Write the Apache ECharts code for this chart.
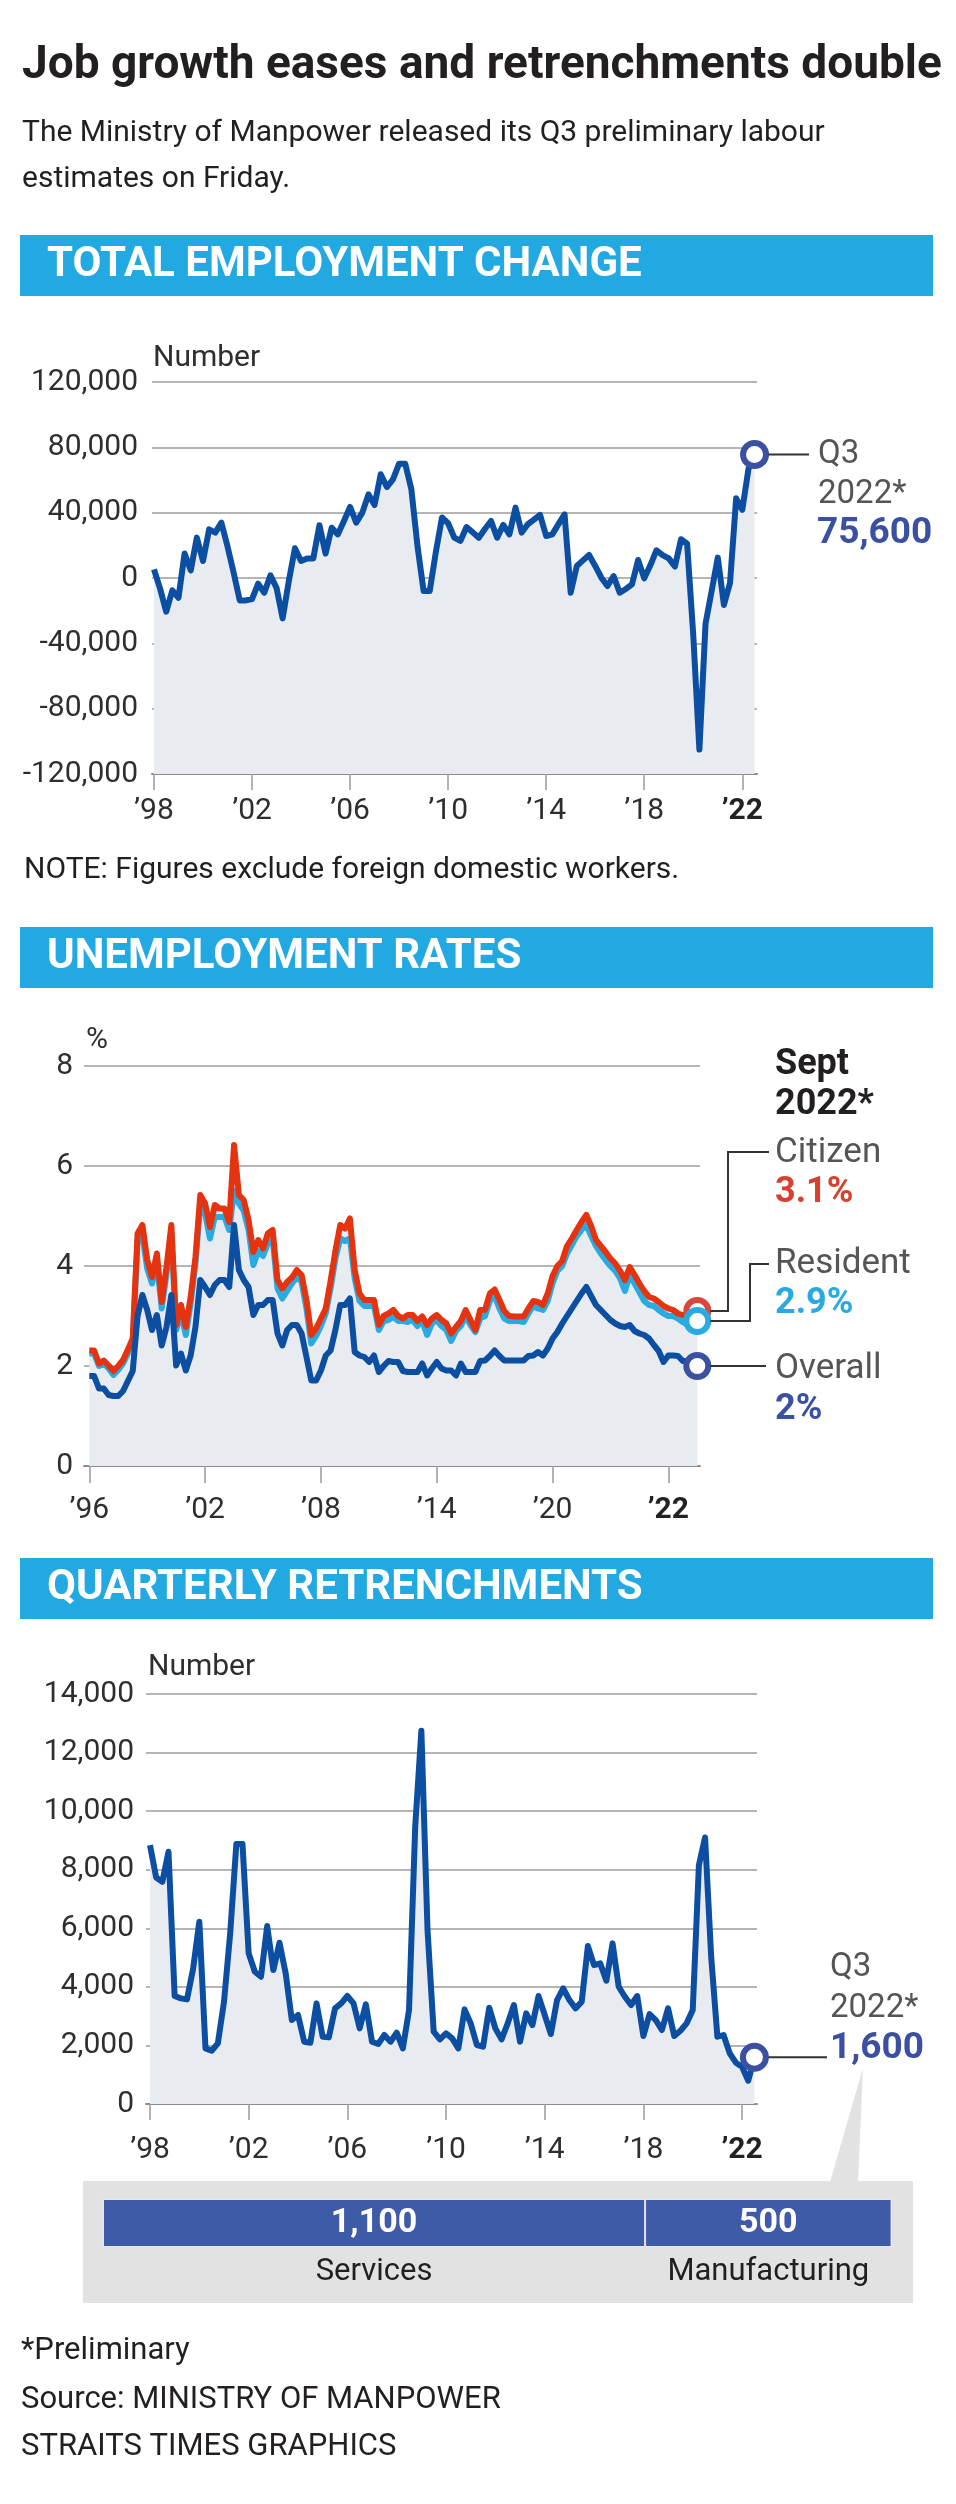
<!DOCTYPE html>
<html><head><meta charset="utf-8">
<script src="https://cdn.jsdelivr.net/npm/echarts@6/dist/echarts.min.js"></script>
<style>html,body{margin:0;padding:0;background:#fff}#c{width:956px;height:2504px}</style>
</head><body><div id="c"></div>
<script>
// ================= DATA =================
// Total employment change, quarterly, Q1 1998 .. Q3 2022
const empStartYear = 1998;
const employmentChange = [5300, -6500, -20600, -7600, -12100, 15000, 4700, 24700, 10400, 29800,
  27800, 33900, 19400, 3300, -13700, -13700, -12900, -3500, -9000, 1600,
  -6000, -24700, -2000, 18200, 10400, 12000, 12000, 32300, 14900, 30800,
  26700, 34900, 43500, 33900, 40000, 51200, 44700, 63500, 55700, 60400,
  70000, 70000, 54300, 19600, -8000, -8000, 16000, 37000, 33500, 24700,
  22700, 31200, 28000, 24700, 30000, 34900, 24700, 32500, 26700, 43100,
  27800, 32900, 35700, 38600, 25700, 26700, 33000, 39000, -9000, 7400,
  10800, 14100, 7400, 200, -4900, 1200, -9000, -6700, -3900, 11000,
  -200, 7800, 17000, 14000, 12000, 7000, 23700, 21000, -35000, -105000,
  -28000, -8000, 12500, -16500, -3000, 48800, 41700, 66600, 75600];

// Quarterly retrenchments, Q1 1998 .. Q3 2022
const retrenchments = [8840, 7736, 7588, 8612, 3686, 3606, 3572, 4630, 6223, 1900,
  1820, 2070, 3493, 5825, 8874, 8874, 5142, 4517, 4346, 6075,
  4574, 5507, 4460, 2867, 3038, 2128, 2093, 3436, 2298, 2275,
  3265, 3436, 3686, 3436, 2583, 3402, 2128, 2048, 2355, 2128,
  2435, 1900, 3208, 9465, 12742, 5939, 2469, 2207, 2412, 2241,
  1900, 3231, 2753, 2014, 1957, 3288, 2583, 2207, 2753, 3379,
  2128, 3095, 2696, 3686, 3038, 2389, 3550, 3948, 3550, 3265,
  3493, 5393, 4744, 4801, 4209, 5484, 4005, 3663, 3379, 3686,
  2321, 3072, 2867, 2526, 3265, 2321, 2503, 2753, 3208, 8157,
  9102, 5000, 2298, 2355, 1729, 1411, 1274, 796, 1600];

// Unemployment rates (%): quarterly Q1 1996 .. Q1 2020, then monthly Apr 2020 .. Sep 2022
const unempCitizen = [2.31, 2.31, 2.05, 2.11, 2.01, 1.9, 2.0, 2.12, 2.33, 2.55,
  4.65, 4.82, 4.12, 3.78, 4.25, 3.28, 3.98, 4.82, 2.82, 3.22,
  2.78, 3.38, 4.18, 5.42, 5.25, 4.78, 5.22, 5.15, 5.15, 4.88,
  6.42, 5.42, 5.32, 4.92, 4.28, 4.52, 4.35, 4.65, 4.72, 3.72,
  3.55, 3.68, 3.77, 3.92, 3.82, 3.32, 2.62, 2.75, 2.95, 3.15,
  3.7, 4.3, 4.82, 4.75, 4.95, 3.92, 3.45, 3.32, 3.32, 3.32,
  2.82, 3.0, 3.05, 3.12, 3.0, 2.95, 3.02, 3.02, 2.9, 2.99,
  2.82, 2.95, 3.02, 2.92, 2.85, 2.65, 2.78, 2.9, 3.12, 2.92,
  2.72, 3.12, 3.12, 3.45, 3.53, 3.32, 3.1, 3.0, 2.99, 2.99,
  2.99, 3.15, 3.3, 3.28, 3.22, 3.45, 3.8, 4.0, 4.1, 4.4,
  4.55, 4.72, 4.88, 5.02, 4.8, 4.52, 4.4, 4.28, 4.15, 4.05,
  3.9, 3.72, 3.98, 3.82, 3.65, 3.5, 3.38, 3.35, 3.28, 3.2,
  3.15, 3.12, 3.05, 3.02, 3.0, 3.05, 3.1];
const unempResident = [2.25, 2.25, 2.0, 2.05, 1.95, 1.82, 1.92, 2.05, 2.25, 2.5,
  4.5, 4.62, 3.95, 3.65, 4.1, 3.15, 3.85, 4.65, 2.72, 3.05,
  2.62, 3.25, 4.05, 5.25, 5.05, 4.55, 4.98, 4.98, 4.98, 4.72,
  5.5, 5.25, 5.1, 4.72, 4.02, 4.3, 4.2, 4.45, 4.55, 3.55,
  3.35, 3.5, 3.65, 3.78, 3.68, 3.15, 2.45, 2.6, 2.8, 3.05,
  3.55, 4.15, 4.55, 4.5, 4.55, 3.75, 3.3, 3.2, 3.2, 3.2,
  2.72, 2.9, 2.92, 2.98, 2.9, 2.9, 2.88, 2.92, 2.8, 2.9,
  2.62, 2.85, 2.92, 2.8, 2.72, 2.5, 2.7, 2.8, 3.0, 2.82,
  2.68, 2.95, 3.0, 3.3, 3.4, 3.15, 2.95, 2.9, 2.9, 2.9,
  2.88, 3.05, 3.2, 3.15, 3.12, 3.3, 3.65, 3.9, 4.0, 4.25,
  4.42, 4.6, 4.72, 4.82, 4.6, 4.4, 4.25, 4.12, 4.0, 3.9,
  3.75, 3.5, 3.82, 3.65, 3.48, 3.3, 3.22, 3.2, 3.12, 3.05,
  3.0, 3.0, 2.95, 2.88, 2.82, 2.85, 2.9];
const unempOverall = [1.8, 1.8, 1.55, 1.55, 1.42, 1.4, 1.4, 1.5, 1.7, 1.9,
  3.0, 3.42, 3.12, 2.72, 3.02, 2.41, 2.78, 3.42, 2.01, 2.25,
  1.91, 2.21, 2.78, 3.72, 3.58, 3.42, 3.62, 3.72, 3.72, 3.58,
  4.82, 3.92, 3.72, 3.58, 3.02, 3.22, 3.22, 3.32, 3.32, 2.65,
  2.41, 2.72, 2.82, 2.82, 2.65, 2.18, 1.71, 1.71, 1.91, 2.21,
  2.31, 2.72, 3.22, 3.22, 3.35, 2.28, 2.21, 2.18, 2.08, 2.21,
  1.88, 2.0, 2.1, 2.08, 2.08, 1.9, 1.88, 1.88, 1.88, 2.05,
  1.81, 1.95, 2.08, 1.95, 1.91, 1.91, 1.81, 2.05, 1.88, 1.88,
  1.88, 2.1, 2.11, 2.2, 2.31, 2.2, 2.11, 2.11, 2.11, 2.11,
  2.11, 2.2, 2.21, 2.28, 2.21, 2.35, 2.55, 2.68, 2.85, 3.0,
  3.15, 3.3, 3.45, 3.58, 3.4, 3.22, 3.12, 3.02, 2.92, 2.85,
  2.8, 2.78, 2.82, 2.7, 2.65, 2.62, 2.55, 2.42, 2.3, 2.08,
  2.21, 2.21, 2.2, 2.1, 2.1, 2.05, 2.0];

// Tick labels
const yearTicks = [1998, 2002, 2006, 2010, 2014, 2018, 2022];
const yearTickLabels = ['\u201998', '\u201902', '\u201906', '\u201910', '\u201914', '\u201918', '\u201922'];
const unempTickIdx = [0, 24, 48, 72, 96, 120];
const unempTickLabels = ['\u201996', '\u201902', '\u201908', '\u201914', '\u201920', '\u201922'];

// Q3 2022 retrenchments breakdown
const breakdownCats = ['Services', 'Manufacturing'];
const breakdownVals = [1100, 500];

// ================= BUILD =================
const FONT = 'Roboto, "Noto Sans", sans-serif';
const quarterPairs = arr => arr.map((v, i) => [empStartYear + i / 4, v]);
const indexPairs = arr => arr.map((v, i) => [i, v]);
const empData = quarterPairs(employmentChange);
const retData = quarterPairs(retrenchments);
const citData = indexPairs(unempCitizen);
const resData = indexPairs(unempResident);
const ovrData = indexPairs(unempOverall);
const fmt = v => v.toLocaleString('en-US');

const BLUE = '#0b4ea2', FILL = '#e8ebef', GRID = '#9d9d9d', RING = '#3b50a3';
const labelColor = '#2e2e2e';
const LW = 6;

function xAxisYears(grid, min, max, margin) {
  return {
    gridIndex: grid, type: 'value', min: min, max: max,
    splitLine: { show: false },
    axisLine: { show: true, onZero: false, lineStyle: { color: '#8c8c8c', width: 2 } },
    axisTick: { show: true, customValues: yearTicks, length: 16, lineStyle: { color: '#9a9a9a', width: 1.5 } },
    axisLabel: {
      customValues: yearTicks, margin: margin, fontSize: 30, fontFamily: FONT, color: labelColor,
      formatter: v => { const k = yearTicks.indexOf(Math.round(v)); const t = yearTickLabels[k] || ''; return Math.round(v) === 2022 ? '{b|' + t + '}' : t; },
      rich: { b: { fontWeight: 'bold', fontSize: 30, fontFamily: FONT, color: '#222' } }
    }
  };
}
function yAxisNum(grid, min, max, interval, margin, padBottom, formatter) {
  return {
    gridIndex: grid, type: 'value', min: min, max: max, interval: interval,
    axisLine: { show: false }, axisTick: { show: false },
    splitLine: { show: true, lineStyle: { color: GRID, width: 1.5 } },
    axisLabel: { margin: margin, fontSize: 30, fontFamily: FONT, color: labelColor, padding: [0, 0, padBottom, 0], formatter: formatter }
  };
}

const option = {
  animation: false,
  backgroundColor: '#ffffff',
  grid: [
    { left: 152, top: 382, width: 605, height: 392 },
    { left: 84, top: 1066, width: 616, height: 400 },
    { left: 146, top: 1694, width: 611, height: 410 },
    { left: 103, top: 2199, width: 788.5, height: 48 }
  ],
  xAxis: [
    xAxisYears(0, 1997.92, 2022.6, 22),
    {
      gridIndex: 1, type: 'value', min: -1.1, max: 126.56,
      splitLine: { show: false },
      axisLine: { show: true, onZero: false, lineStyle: { color: '#8c8c8c', width: 2 } },
      axisTick: { show: true, customValues: unempTickIdx, length: 17, lineStyle: { color: '#9a9a9a', width: 1.5 } },
      axisLabel: {
        customValues: unempTickIdx, margin: 29, fontSize: 30, fontFamily: FONT, color: labelColor,
        formatter: v => { const k = unempTickIdx.indexOf(Math.round(v)); const t = unempTickLabels[k] || ''; return k === unempTickIdx.length - 1 ? '{b|' + t + '}' : t; },
        rich: { b: { fontWeight: 'bold', fontSize: 30, fontFamily: FONT, color: '#222' } }
      }
    },
    xAxisYears(2, 1997.838, 2022.605, 31),
    { gridIndex: 3, type: 'value', min: 0, max: 1600, show: false }
  ],
  yAxis: [
    yAxisNum(0, -120000, 120000, 40000, 14, 8, v => fmt(v)),
    yAxisNum(1, 0, 8, 2, 11, 0, v => String(v)),
    yAxisNum(2, 0, 14000, 2000, 12, 6, v => fmt(v)),
    { gridIndex: 3, type: 'category', data: ['Q3 2022'], show: false }
  ],
  series: [
    // chart 1
    { type: 'line', xAxisIndex: 0, yAxisIndex: 0, data: empData, symbol: 'none', z: 2,
      lineStyle: { color: BLUE, width: LW, join: 'round' }, areaStyle: { color: FILL, origin: 'start', opacity: 1 } },
    { type: 'scatter', xAxisIndex: 0, yAxisIndex: 0, data: [empData[empData.length - 1]], symbol: 'circle', symbolSize: 23, z: 6,
      itemStyle: { color: '#fff', borderColor: RING, borderWidth: 6, opacity: 1 } },
    // chart 2
    { type: 'line', xAxisIndex: 1, yAxisIndex: 1, data: citData, symbol: 'none', z: 1, silent: true,
      lineStyle: { width: 0, opacity: 0 }, areaStyle: { color: FILL, origin: 'start', opacity: 1 } },
    { type: 'line', xAxisIndex: 1, yAxisIndex: 1, data: resData, symbol: 'none', z: 2,
      lineStyle: { color: '#29abe2', width: LW, join: 'round' } },
    { type: 'line', xAxisIndex: 1, yAxisIndex: 1, data: citData, symbol: 'none', z: 3,
      lineStyle: { color: '#e5330f', width: LW, join: 'round' } },
    { type: 'line', xAxisIndex: 1, yAxisIndex: 1, data: ovrData, symbol: 'none', z: 4,
      lineStyle: { color: BLUE, width: LW, join: 'round' } },
    { type: 'scatter', xAxisIndex: 1, yAxisIndex: 1, data: [citData[citData.length - 1]], symbol: 'circle', symbolSize: 22, z: 5,
      itemStyle: { color: '#fff', borderColor: '#d8463c', borderWidth: 6, opacity: 1 } },
    { type: 'scatter', xAxisIndex: 1, yAxisIndex: 1, data: [resData[resData.length - 1]], symbol: 'circle', symbolSize: 22, z: 6,
      itemStyle: { color: '#fff', borderColor: '#29abe2', borderWidth: 6, opacity: 1 } },
    { type: 'scatter', xAxisIndex: 1, yAxisIndex: 1, data: [ovrData[ovrData.length - 1]], symbol: 'circle', symbolSize: 22, z: 6,
      itemStyle: { color: '#fff', borderColor: RING, borderWidth: 6, opacity: 1 } },
    // chart 3
    { type: 'line', xAxisIndex: 2, yAxisIndex: 2, data: retData, symbol: 'none', z: 2,
      lineStyle: { color: BLUE, width: LW, join: 'round' }, areaStyle: { color: FILL, origin: 'start', opacity: 1 } },
    { type: 'scatter', xAxisIndex: 2, yAxisIndex: 2, data: [retData[retData.length - 1]], symbol: 'circle', symbolSize: 23, z: 6,
      itemStyle: { color: '#fff', borderColor: RING, borderWidth: 6, opacity: 1 } },
    // breakdown bar
    ...breakdownVals.map((v, k) => ({
      type: 'bar', xAxisIndex: 3, yAxisIndex: 3, stack: 'b', data: [v], barCategoryGap: '0%', z: 3,
      itemStyle: { color: '#3f5aa6', borderColor: 'rgba(255,255,255,0.75)', borderWidth: 1 },
      label: { show: true, position: 'inside', formatter: p => fmt(p.value), color: '#fff', fontSize: 34, fontWeight: 'bold', fontFamily: FONT }
    }))
  ]
};

const chart = echarts.init(document.getElementById('c'), null, { renderer: 'canvas', width: 956, height: 2504 });
chart.setOption(option);

// ---------- annotations ----------
function txt(x, y, text, size, color, weight, align) {
  return { type: 'text', x: x, y: y, z: 100,
    style: { text: text, fill: color, font: (weight || 'normal') + ' ' + size + 'px ' + FONT,
      align: align || 'left', textAlign: align || 'left', verticalAlign: 'middle', textVerticalAlign: 'middle' } };
}
function pl(points, color, w) {
  return { type: 'polyline', z: 90, shape: { points: points }, style: { stroke: color, lineWidth: w || 2, fill: null } };
}
const px = (g, d) => chart.convertToPixel({ gridIndex: g }, d);

const p1 = px(0, empData[empData.length - 1]);
const pr = px(1, citData[citData.length - 1]);
const pc = px(1, resData[resData.length - 1]);
const pb = px(1, ovrData[ovrData.length - 1]);
const p3 = px(2, retData[retData.length - 1]);
const sx = chart.convertToPixel({ xAxisIndex: 3 }, breakdownVals[0] / 2);
const mx = chart.convertToPixel({ xAxisIndex: 3 }, breakdownVals[0] + breakdownVals[1] / 2);

const SEC = '#23a9e1', GRAY = '#555555', DARK = '#231f20';
const graphics = [
  txt(22, 66, 'Job growth eases and retrenchments double', 46, DARK, 'bold'),
  txt(22, 133, 'The Ministry of Manpower released its Q3 preliminary labour', 30, DARK),
  txt(22, 179, 'estimates on Friday.', 30, DARK),
  { type: 'rect', z: 50, shape: { x: 20, y: 235, width: 913, height: 61 }, style: { fill: SEC } },
  txt(47, 265, 'TOTAL EMPLOYMENT CHANGE', 42, '#fff', 'bold'),
  txt(153, 358, 'Number', 30, labelColor),
  pl([[p1[0] + 14, p1[1]], [809, p1[1]]], '#333', 2),
  txt(818, 455, 'Q3', 33, GRAY),
  txt(818, 495, '2022*', 33, GRAY),
  txt(817, 534, '75,600', 37, RING, 'bold'),
  txt(24, 870, 'NOTE: Figures exclude foreign domestic workers.', 30, DARK),

  { type: 'rect', z: 50, shape: { x: 20, y: 927, width: 913, height: 61 }, style: { fill: SEC } },
  txt(47, 957, 'UNEMPLOYMENT RATES', 42, '#fff', 'bold'),
  txt(86, 1040, '%', 30, labelColor),
  txt(775, 1065, 'Sept', 36, DARK, 'bold'),
  txt(775, 1105, '2022*', 36, DARK, 'bold'),
  txt(775, 1153, 'Citizen', 35, GRAY),
  txt(775, 1193, '3.1%', 36, '#d8412f', 'bold'),
  txt(775, 1264, 'Resident', 35, GRAY),
  txt(775, 1304, '2.9%', 36, '#29abe2', 'bold'),
  txt(775, 1369, 'Overall', 35, GRAY),
  txt(775, 1410, '2%', 36, RING, 'bold'),
  pl([[pr[0] + 13, pr[1]], [728, pr[1]], [728, 1152], [769, 1152]], '#333', 2),
  pl([[pc[0] + 13, pc[1]], [750, pc[1]], [750, 1264], [769, 1264]], '#333', 2),
  pl([[pb[0] + 13, pb[1]], [766, pb[1]]], '#333', 2),

  { type: 'rect', z: 50, shape: { x: 20, y: 1558, width: 913, height: 61 }, style: { fill: SEC } },
  txt(47, 1588, 'QUARTERLY RETRENCHMENTS', 42, '#fff', 'bold'),
  txt(148, 1667, 'Number', 30, labelColor),
  pl([[p3[0] + 14, p3[1]], [827, p3[1]]], '#333', 2),
  txt(830, 1968, 'Q3', 33, GRAY),
  txt(830, 2009, '2022*', 33, GRAY),
  txt(830, 2049, '1,600', 37, RING, 'bold'),
  { type: 'polygon', z: 1, shape: { points: [[863, 2068], [830, 2182], [858, 2182]] }, style: { fill: '#e2e2e2' } },
  { type: 'rect', z: 1, shape: { x: 83, y: 2181, width: 830, height: 122 }, style: { fill: '#e2e2e2' } },
  txt(sx, 2272, breakdownCats[0], 31, DARK, 'normal', 'center'),
  txt(mx, 2272, breakdownCats[1], 31, DARK, 'normal', 'center'),

  txt(21, 2351, '*Preliminary', 31, DARK),
  txt(21, 2400, 'Source: MINISTRY OF MANPOWER', 31, DARK),
  txt(21, 2447, 'STRAITS TIMES GRAPHICS', 31, DARK)
];
chart.setOption({ graphic: { elements: graphics } });
</script>
</body></html>
